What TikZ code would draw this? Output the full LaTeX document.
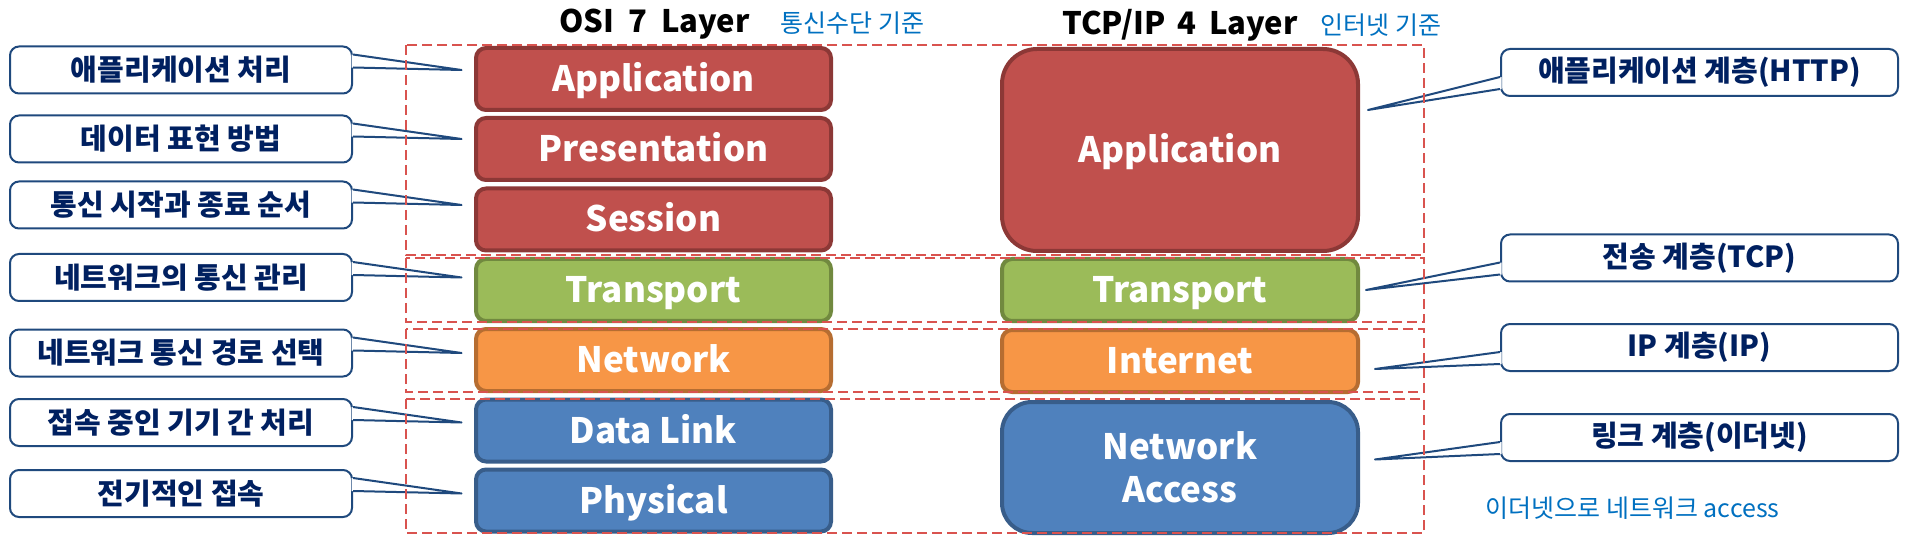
\documentclass[tikz,border=0pt]{standalone}
\usepackage{fontspec}
\newfontfamily\kr{Noto Sans CJK KR}
\usetikzlibrary{calc}
\definecolor{lred}{RGB}{192,80,77}
\definecolor{lredd}{RGB}{140,56,54}
\definecolor{lgreen}{RGB}{155,187,89}
\definecolor{lgreend}{RGB}{113,137,63}
\definecolor{lorange}{RGB}{247,150,70}
\definecolor{lorangedk}{RGB}{182,109,49}
\definecolor{lblue}{RGB}{79,129,189}
\definecolor{lbluedk}{RGB}{56,93,138}
\definecolor{cnavy}{RGB}{31,73,125}
\definecolor{ctext}{RGB}{0,32,96}
\definecolor{zred}{RGB}{217,83,79}
\definecolor{nblue}{RGB}{0,112,192}
\tikzset{
  layer/.style={rounded corners=10pt, line width=4pt, text=white, inner sep=0pt,
    font=\kr\bfseries\fontsize{35}{43}\selectfont, align=center},
  layertxt/.style={text height=25pt, text depth=0pt},
  redbox/.style={layer, fill=lred, draw=lredd},
  greenbox/.style={layer, fill=lgreen, draw=lgreend},
  orangebox/.style={layer, fill=lorange, draw=lorangedk},
  bluebox/.style={layer, fill=lblue, draw=lbluedk},
  osi/.style={minimum width=355pt, minimum height=62pt, layertxt},
  tcp/.style={minimum width=356pt, minimum height=62pt},
  callbox/.style={draw=cnavy, line width=2pt, fill=white, rounded corners=9pt,
    minimum height=47pt, inner sep=0pt, text=ctext,
    font=\kr\bfseries\fontsize{29}{33}\selectfont},
  lcall/.style={callbox, minimum width=342pt},
  rcall/.style={callbox, minimum width=397pt},
  callline/.style={draw=cnavy, line width=2pt, line join=round},
  zone/.style={draw=zred, line width=2pt, dash pattern=on 10pt off 5pt},
  title/.style={anchor=base, font=\kr\bfseries\fontsize{31}{36}\selectfont, text=black},
  note/.style={anchor=base west, font=\kr\fontsize{25}{29}\selectfont, text=nblue},
}
\begin{document}
\begin{tikzpicture}[x=1pt,y=-1pt]
\useasboundingbox (0,0) rectangle (1906,545);

% titles
\node[title] (otitle) at (654.5,33) {OSI\hspace{0.45em}7\hspace{0.45em}Layer};
\node[note] (onote) at (777,33) {통신수단 기준};
\node[title] (ttitle) at (1180,35) {TCP/IP\hspace{0.4em}4\hspace{0.4em}Layer};
\node[note] (tnote) at (1317,35) {인터넷 기준};
\node[note] (anote) at (1482,517) {이더넷으로 네트워크 access};

% OSI layers
\node[redbox, osi] (oapp) at (653.5,79) {Application};
\node[redbox, osi] (oprs) at (653.5,149) {Presentation};
\node[redbox, osi] (oses) at (653.5,219.5) {Session};
\node[greenbox, osi] (otra) at (653.5,290) {Transport};
\node[orangebox, osi] (onet) at (653.5,360) {Network};
\node[bluebox, osi] (odl) at (653.5,430.5) {Data Link};
\node[bluebox, osi] (ophy) at (653.5,500.5) {Physical};

% TCP/IP layers
\node[redbox, tcp, rounded corners=35pt, minimum height=202pt, layertxt] (tapp) at (1180,150) {Application};
\node[greenbox, tcp, layertxt] (ttra) at (1180,290) {Transport};
\node[orangebox, tcp, layertxt] (tint) at (1180,361) {Internet};
\node[bluebox, tcp, rounded corners=30pt, minimum height=131pt] (tna) at (1180,467.5) {Network\\Access};

% left callouts
\node[lcall] (c1) at (181,70) {애플리케이션 처리};
\node[lcall] (c2) at (181,139) {데이터 표현 방법};
\node[lcall] (c3) at (181,205) {통신 시작과 종료 순서};
\node[lcall] (c4) at (181,277.5) {네트워크의 통신 관리};
\node[lcall] (c5) at (181,353) {네트워크 통신 경로 선택};
\node[lcall] (c6) at (181,422.5) {접속 중인 기기 간 처리};
\node[lcall] (c7) at (181,493.5) {전기적인 접속};

\foreach \c/\b in {c1/oapp, c2/oprs, c3/oses, c4/otra, c5/onet, c6/odl, c7/ophy} {
  \coordinate (tip-\c) at ($(\c.east -| \b.west)+(-12.5,0)$);
  \fill[white] ($(\c.north east)+(-1.5,9)$) -- (tip-\c) -- ($(\c.north east)+(-1.5,22)$) -- cycle;
  \draw[callline] ($(\c.north east)+(0,9)$) -- (tip-\c) -- ($(\c.north east)+(0,22)$);
}

% right callouts
\node[rcall] (r1) at (1699.5,72.5) {애플리케이션 계층(HTTP)};
\node[rcall] (r2) at (1699.5,258) {전송 계층(TCP)};
\node[rcall] (r3) at (1699.5,347.5) {IP 계층(IP)};
\node[rcall] (r4) at (1699.5,437.5) {링크 계층(이더넷)};

\coordinate (ta) at ($(tapp.east)+(8,-40)$);
\coordinate (tb) at ($(ttra.east)+(6,0)$);
\coordinate (tc) at ($(tint.east)+(15,8)$);
\coordinate (td) at ($(tna.east)+(15,-8)$);

\foreach \c/\t in {r1/ta, r2/tb, r3/tc, r4/td} {
  \fill[white] ($(\c.south west)+(1.5,-20)$) -- (\t) -- ($(\c.south west)+(1.5,-8)$) -- cycle;
  \draw[callline] ($(\c.south west)+(0,-20)$) -- (\t) -- ($(\c.south west)+(0,-8)$);
}

% dashed zones
\draw[zone] (406,45) rectangle (1424,255);
\draw[zone] (406,258) rectangle (1424,322);
\draw[zone] (406,329) rectangle (1424,392);
\draw[zone] (406,399) rectangle (1424,533);
\end{tikzpicture}
\end{document}
